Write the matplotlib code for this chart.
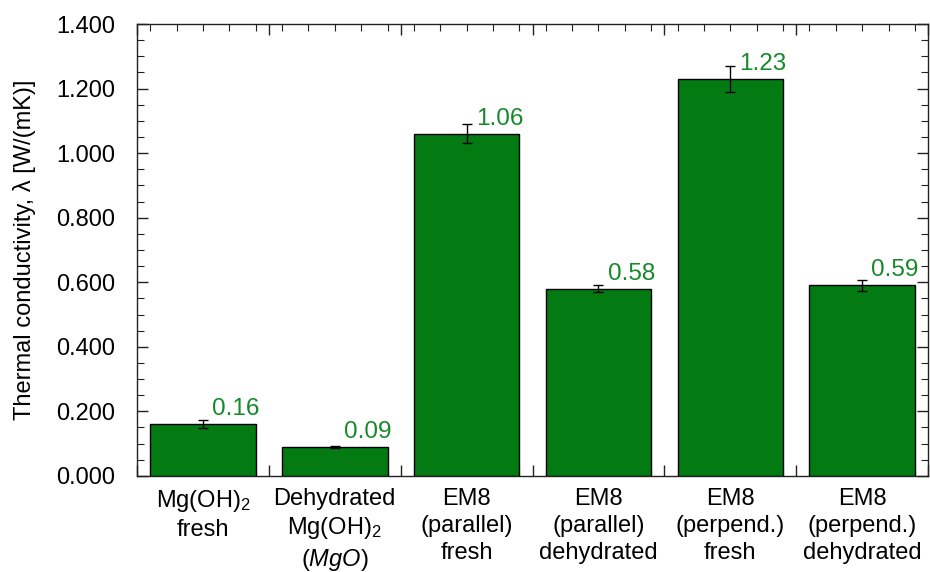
import matplotlib
matplotlib.use("Agg")
import matplotlib.pyplot as plt
from matplotlib.ticker import MultipleLocator, FixedLocator

plt.rcParams['font.family'] = ['Liberation Sans', 'DejaVu Sans']
plt.rcParams['mathtext.fontset'] = 'custom'
plt.rcParams['mathtext.rm'] = 'Liberation Sans'
plt.rcParams['mathtext.it'] = 'Liberation Sans:italic'

# sample names and measured conductivities
categories = [
    "Mg(OH)$_2$\nfresh",
    "Dehydrated\nMg(OH)$_2$\n($\\mathit{MgO}$)",
    "EM8\n(parallel)\nfresh",
    "EM8\n(parallel)\ndehydrated",
    "EM8\n(perpend.)\nfresh",
    "EM8\n(perpend.)\ndehydrated",
]
conductivity = [0.16, 0.09, 1.06, 0.58, 1.23, 0.59]
std_dev = [0.012, 0.003, 0.030, 0.010, 0.040, 0.018]
value_labels = ["0.16", "0.09", "1.06", "0.58", "1.23", "0.59"]

bar_green = '#047a13'
text_green = '#16892a'
fs = 17

fig = plt.figure(figsize=(9.3, 5.72), dpi=100)
ax = fig.add_axes([0.1473, 0.168, 0.8507, 0.790])

x = list(range(len(categories)))
ax.bar(x, conductivity, width=0.8, color=bar_green, edgecolor='black',
       linewidth=1.0, zorder=2)
ax.errorbar(x, conductivity, yerr=std_dev, fmt='none', ecolor='black',
            elinewidth=1.0, capsize=3.5, capthick=1.0, zorder=3)

for xi, val, txt in zip(x, conductivity, value_labels):
    ax.annotate(txt, xy=(xi, val), xytext=(6.5, 6.5), textcoords='offset points',
                ha='left', va='baseline', color=text_green, fontsize=fs + 0.5)

ax.set_xlim(-0.5, len(categories) - 0.5)
ax.set_ylim(0, 1.4)

# major ticks sit between categories, labels at the centres
ax.xaxis.set_major_locator(FixedLocator([i + 0.5 for i in range(-1, len(categories))]))
ax.xaxis.set_minor_locator(MultipleLocator(0.2))
ax.set_xticklabels([])
for xi, lab in zip(x, categories):
    ax.text(xi, -0.026, lab, transform=ax.get_xaxis_transform(), ha='center',
            va='top', fontsize=fs, linespacing=1.3)

ax.yaxis.set_major_locator(MultipleLocator(0.2))
ax.yaxis.set_minor_locator(MultipleLocator(0.05))
ax.set_yticklabels(["%.3f" % v for v in ax.get_yticks()])

ax.tick_params(which='both', direction='in', top=True, right=True, colors='#222222')
ax.tick_params(which='major', length=8, width=1.0)
ax.tick_params(which='minor', length=5, width=0.8)
ax.tick_params(axis='y', labelsize=fs, pad=16, labelcolor='black')

for sp in ax.spines.values():
    sp.set_linewidth(1.0)
    sp.set_color('#222222')

ax.set_ylabel("Thermal conductivity, λ [W/(mK)]", fontsize=fs)
ax.yaxis.set_label_coords(-0.128, 0.5)

fig.savefig("out.png", dpi=100)
